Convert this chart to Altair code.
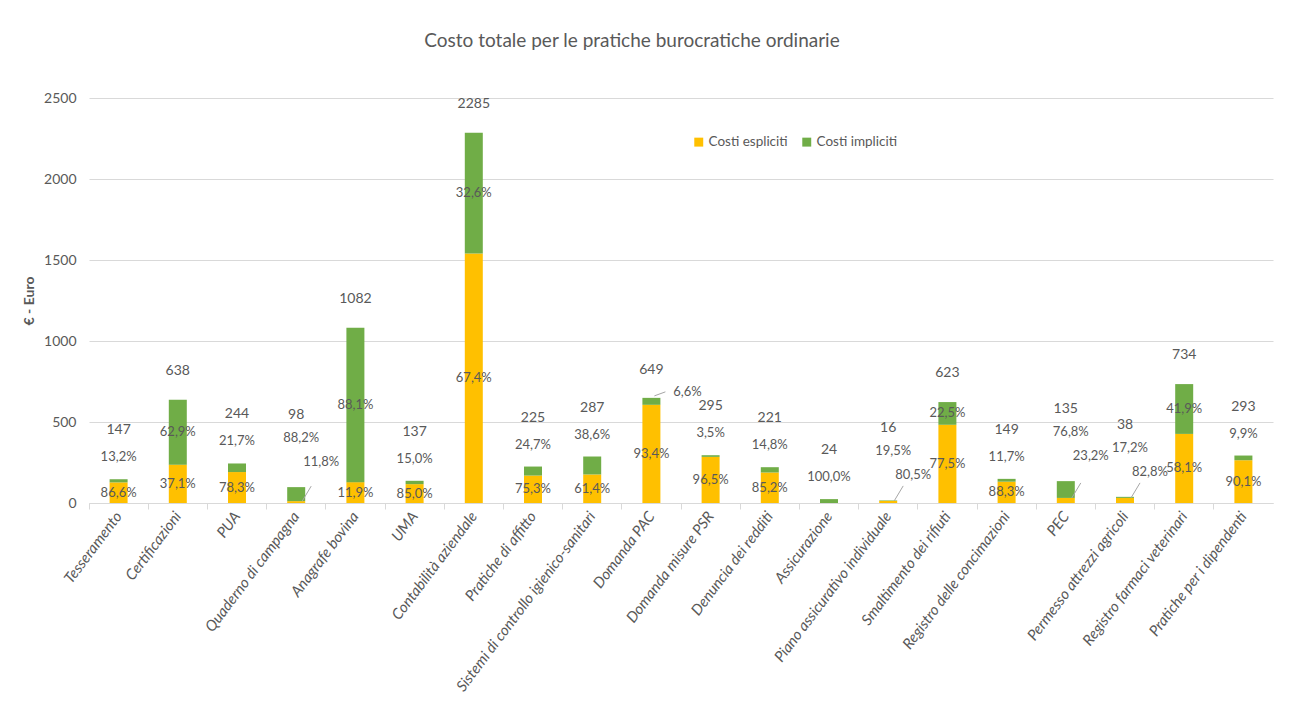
import altair as alt
import pandas as pd

categorie = [
    "Tesseramento", "Certificazioni", "PUA", "Quaderno di campagna", "Anagrafe bovina",
    "UMA", "Contabilità aziendale", "Pratiche di affitto",
    "Sistemi di controllo igienico-sanitari", "Domanda PAC", "Domanda misure PSR",
    "Denuncia dei redditi", "Assicurazione", "Piano assicurativo individuale",
    "Smaltimento dei rifiuti", "Registro delle concimazioni", "PEC",
    "Permesso attrezzi agricoli", "Registro farmaci veterinari", "Pratiche per i dipendenti",
]
totali = [147, 638, 244, 98, 1082, 137, 2285, 225, 287, 649, 295, 221, 24, 16, 623, 149, 135, 38, 734, 293]
pct_espliciti = [86.6, 37.1, 78.3, 11.8, 11.9, 85.0, 67.4, 75.3, 61.4, 93.4, 96.5, 85.2, 0.0, 80.5, 77.5, 88.3, 23.2, 82.8, 58.1, 90.1]
pct_impliciti = [13.2, 62.9, 21.7, 88.2, 88.1, 15.0, 32.6, 24.7, 38.6, 6.6, 3.5, 14.8, 100.0, 19.5, 22.5, 11.7, 76.8, 17.2, 41.9, 9.9]
serie = ["Costi espliciti", "Costi impliciti"]
colori = ["#FFC000", "#70AD47"]
y_ticks = [0, 500, 1000, 1500, 2000, 2500]

FONT = "Lato"
TXT = "#595959"
LBL = 13


def fmt(p):
    return f"{p:.1f}%".replace(".", ",")


wide = pd.DataFrame({"cat": categorie, "tot": totali, "pe": pct_espliciti, "pi": pct_impliciti})
wide["esp"] = wide["tot"] * wide["pe"] / 100
wide["imp"] = wide["tot"] * wide["pi"] / 100
wide["esp_mid"] = wide["esp"] / 2
wide["imp_mid"] = wide["esp"] + wide["imp"] / 2
wide["top"] = wide["esp"] + wide["imp"]
wide["pe_lbl"] = wide["pe"].map(fmt)
wide["pi_lbl"] = wide["pi"].map(fmt)
wide["tot_lbl"] = wide["tot"].astype(str)


def gruppo(r):
    if r["imp"] >= 130:
        return "A"          # implicit label inside the green segment
    if 0 < r["esp"] < 40:
        return "T"          # tiny explicit segment: labels staggered to the right
    if r["imp"] < 50 and r["tot"] > 500:
        return "R"          # thin green cap on a tall bar: label at its right
    return "B"              # implicit label above the bar


wide["grp"] = wide.apply(gruppo, axis=1)

long = pd.concat([
    pd.DataFrame({"cat": wide["cat"], "serie": serie[0], "valore": wide["esp"], "ordine": 0}),
    pd.DataFrame({"cat": wide["cat"], "serie": serie[1], "valore": wide["imp"], "ordine": 1}),
])

x_enc = alt.X(
    "cat:N", sort=categorie, title=None,
    scale=alt.Scale(paddingInner=0, paddingOuter=0),
    axis=alt.Axis(
        labelAngle=-53, labelFontStyle="italic", labelFontSize=15, labelColor=TXT,
        labelFont=FONT, domainColor="#D9D9D9", tickColor="#D9D9D9", tickSize=6,
        bandPosition=0, labelPadding=4, labelLimit=400, grid=False,
    ),
)
y_scale = alt.Scale(domain=[0, 2500], nice=False)

bars = alt.Chart(long).mark_bar(size=18).encode(
    x=x_enc,
    y=alt.Y(
        "valore:Q", stack="zero", scale=y_scale, title="€ - Euro",
        axis=alt.Axis(
            values=y_ticks, format="d", grid=True, gridColor="#D9D9D9", domain=False, ticks=False,
            labelPadding=13, labelFontSize=14, labelColor=TXT, labelFont=FONT,
            titleFontSize=14, titleColor=TXT, titleFont=FONT, titleFontWeight="bold",
            titlePadding=7,
        ),
    ),
    color=alt.Color(
        "serie:N", scale=alt.Scale(domain=serie, range=colori),
        legend=alt.Legend(
            title=None, orient="none", legendX=603, legendY=37, direction="horizontal",
            symbolType="square", symbolSize=80, symbolStrokeWidth=0, labelFontSize=13.5,
            labelColor=TXT, labelFont=FONT, columnPadding=12, labelOffset=3,
        ),
    ),
    order=alt.Order("ordine:Q"),
)

base = alt.Chart(wide)
X = alt.X("cat:N", sort=categorie)


def txt(dx=0, dy=0, size=LBL):
    return base.mark_text(font=FONT, fontSize=size, color=TXT, dx=dx, dy=dy, baseline="middle")


def Y(field):
    return alt.Y(field, scale=y_scale)


tot_A = txt(dy=-29, size=14).encode(x=X, y=Y("top:Q"), text="tot_lbl:N").transform_filter("datum.grp == 'A'")
tot_B = txt(dy=-49, size=14).encode(x=X, y=Y("top:Q"), text="tot_lbl:N").transform_filter("datum.grp == 'B'")
tot_T = txt(dy=-72, size=14).encode(x=X, y=Y("top:Q"), text="tot_lbl:N").transform_filter("datum.grp == 'T'")
tot_R = txt(dy=-28, size=14).encode(x=X, y=Y("top:Q"), text="tot_lbl:N").transform_filter("datum.grp == 'R'")

imp_A = txt().encode(x=X, y=Y("imp_mid:Q"), text="pi_lbl:N").transform_filter("datum.grp == 'A'")
imp_B = txt(dy=-22).encode(x=X, y=Y("top:Q"), text="pi_lbl:N").transform_filter("datum.grp == 'B'")
imp_T = txt(dx=5, dy=-49).encode(x=X, y=Y("top:Q"), text="pi_lbl:N").transform_filter("datum.grp == 'T'")
imp_R = txt(dx=36, dy=-6).encode(x=X, y=Y("top:Q"), text="pi_lbl:N").transform_filter("datum.grp == 'R'")

esp_main = txt().encode(x=X, y=Y("esp_mid:Q"), text="pe_lbl:N").transform_filter("datum.grp != 'T' && datum.esp > 0")
esp_T = txt(dx=25, dy=-25).encode(x=X, y=Y("top:Q"), text="pe_lbl:N").transform_filter("datum.grp == 'T'")

leader_T = base.mark_rule(color="#A6A6A6", strokeWidth=1, xOffset=6, x2Offset=15, yOffset=0, y2Offset=-15).encode(
    x=X, x2="cat:N", y=Y("esp:Q"), y2="esp:Q"
).transform_filter("datum.grp == 'T'")
leader_R = base.mark_rule(color="#A6A6A6", strokeWidth=1, xOffset=3, x2Offset=14, yOffset=-2, y2Offset=-6).encode(
    x=X, x2="cat:N", y=Y("top:Q"), y2="top:Q"
).transform_filter("datum.grp == 'R'")

chart = alt.layer(
    bars, leader_T, leader_R, tot_A, tot_B, tot_T, tot_R,
    imp_A, imp_B, imp_T, imp_R, esp_main, esp_T
).properties(
    width=1184, height=405,
    title=alt.TitleParams(
        "Costo totale per le pratiche burocratiche ordinarie", font=FONT, fontSize=19,
        fontWeight="normal", color=TXT, anchor="middle", dx=-49, offset=40,
    ),
    autosize=alt.AutoSizeParams(type="none"),
    padding={"left": 81, "top": 90, "right": 8, "bottom": 200},
).configure_view(stroke=None)

chart.save("out.html", embed_options={"renderer": "svg", "actions": False})
